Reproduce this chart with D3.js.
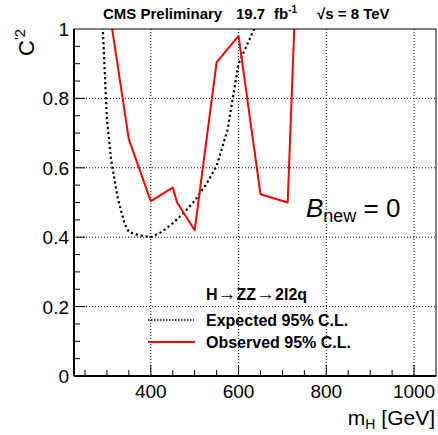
<!DOCTYPE html>
<html lang="en">
  <head>
    <meta charset="UTF-8" />
    <script src="https://d3js.org/d3.v7.min.js"></script>
    <style>
      body { margin: 0; background: #fff; }
      text { font-family: "Liberation Sans", Arial, sans-serif; }
    </style>
    <title>C'2 limit</title>
  </head>
  <body>
    <svg width="438" height="435"></svg>
    <script>
      // values
      var expMass = [290, 300, 310, 325, 340, 350, 375, 400, 425, 450, 475, 500, 525, 550, 575, 600, 650];
      var expLimit = [1.02, 0.74, 0.62, 0.51, 0.44, 0.415, 0.405, 0.40, 0.415, 0.44, 0.47, 0.505, 0.55, 0.605, 0.71, 0.90, 1.04];
      var obsMass = [300, 350, 400, 450, 460, 500, 550, 600, 650, 712, 750];
      var obsLimit = [1.10, 0.682, 0.504, 0.543, 0.50, 0.42, 0.904, 0.98, 0.524, 0.50, 1.77];
      var xTicks = [400, 600, 800, 1000];
      var yTicks = [0, 0.2, 0.4, 0.6, 0.8, 1];

      var svg = d3.select("svg"),
        margin = { top: 29, right: 2, bottom: 59, left: 74 },
        width = +svg.attr("width") - margin.left - margin.right,
        height = +svg.attr("height") - margin.top - margin.bottom,
        g = svg.append("g").attr("transform", "translate(" + margin.left + "," + margin.top + ")");

      var x = d3.scaleLinear().domain([225, 1050]).range([0, width]);
      var y = d3.scaleLinear().domain([0, 1]).range([height, 0]);

      svg.append("defs").append("clipPath").attr("id", "clip")
        .append("rect").attr("width", width).attr("height", height);

      // grid
      g.append("g").selectAll("line").data(xTicks).enter().append("line")
        .attr("x1", function (d) { return x(d); }).attr("x2", function (d) { return x(d); })
        .attr("y1", 0).attr("y2", height)
        .attr("stroke", "#000").attr("stroke-width", 1).attr("stroke-dasharray", "1,2");
      g.append("g").selectAll("line").data(yTicks.slice(1, 5)).enter().append("line")
        .attr("y1", function (d) { return y(d); }).attr("y2", function (d) { return y(d); })
        .attr("x1", 0).attr("x2", width)
        .attr("stroke", "#000").attr("stroke-width", 1).attr("stroke-dasharray", "1,2");

      // ticks (inside)
      var xMinor = d3.range(250, 1050, 50);
      g.append("g").selectAll("line").data(xMinor).enter().append("line")
        .attr("x1", function (d) { return x(d); }).attr("x2", function (d) { return x(d); })
        .attr("y1", height).attr("y2", function (d) { return d % 200 === 0 ? height - 11 : height - 6; })
        .attr("stroke", "#000").attr("stroke-width", 1);
      var yMinor = d3.range(0.05, 1, 0.05);
      g.append("g").selectAll("line").data(yMinor).enter().append("line")
        .attr("y1", function (d) { return y(d); }).attr("y2", function (d) { return y(d); })
        .attr("x1", 0).attr("x2", function (d, i) { return (i + 1) % 4 === 0 ? 11 : 6; })
        .attr("stroke", "#000").attr("stroke-width", 1);

      // tick labels
      g.append("g").selectAll("text").data(xTicks).enter().append("text")
        .attr("x", function (d) { return x(d); }).attr("y", height + 22)
        .attr("text-anchor", "middle").attr("font-size", 19).text(function (d) { return d; });
      g.append("g").selectAll("text").data(yTicks).enter().append("text")
        .attr("x", -5).attr("y", function (d) { return y(d) + 7; })
        .attr("text-anchor", "end").attr("font-size", 19).text(function (d) { return d; });

      // lines
      var line = d3.line().x(function (d) { return x(d[0]); }).y(function (d) { return y(d[1]); });
      var lines = g.append("g").attr("clip-path", "url(#clip)");
      lines.append("path").datum(d3.zip(expMass, expLimit))
        .attr("d", line).attr("fill", "none").attr("stroke", "#000")
        .attr("stroke-width", 2.2).attr("stroke-dasharray", "2.2,2.8");
      lines.append("path").datum(d3.zip(obsMass, obsLimit))
        .attr("d", line).attr("fill", "none").attr("stroke", "#f00")
        .attr("stroke-width", 2).attr("stroke-linejoin", "round");

      // frame
      g.append("rect").attr("width", width).attr("height", height)
        .attr("fill", "none").attr("stroke", "#000").attr("stroke-width", 1);
      g.append("line").attr("x1", 0).attr("x2", width).attr("y1", height).attr("y2", height)
        .attr("stroke", "#000").attr("stroke-width", 2);
      g.append("line").attr("x1", 0).attr("x2", 0).attr("y1", 0).attr("y2", height)
        .attr("stroke", "#000").attr("stroke-width", 2);

      // axis titles
      var xt = svg.append("text").attr("x", 435).attr("y", 425).attr("text-anchor", "end").attr("font-size", 21);
      xt.append("tspan").text("m");
      xt.append("tspan").attr("font-size", 14).attr("dy", 4).text("H");
      xt.append("tspan").attr("dy", -4).text(" [GeV]");
      var yt = svg.append("text").attr("transform", "translate(34,56) rotate(-90)")
        .attr("text-anchor", "start").attr("font-size", 22);
      yt.append("tspan").text("C");
      yt.append("tspan").attr("font-size", 15).attr("dy", -9).text("'2");

      // header
      var ht = svg.append("text").attr("x", 103).attr("y", 19).attr("font-size", 15).attr("font-weight", "bold");
      ht.append("tspan").text("CMS Preliminary");
      ht.append("tspan").attr("x", 236).text("19.7");
      ht.append("tspan").attr("x", 274).text("fb");
      ht.append("tspan").attr("font-size", 10).attr("dy", -6).text("-1");
      ht.append("tspan").attr("x", 317).attr("dy", 6).text("\u221As = 8 TeV");

      // B_new label
      var bt = svg.append("text").attr("x", 306).attr("y", 217).attr("font-size", 26);
      bt.append("tspan").attr("font-style", "italic").text("B");
      bt.append("tspan").attr("font-size", 18).attr("dy", 5).text("new");
      bt.append("tspan").attr("dy", -5).text(" = 0");

      // legend
      var lg = svg.append("g").attr("font-size", 16).attr("font-weight", "bold");
      var h = lg.append("text").attr("x", 206).attr("y", 300);
      h.append("tspan").text("H");
      h.append("tspan").attr("font-weight", "normal").attr("font-size", 19).text("\u2192");
      h.append("tspan").text("ZZ");
      h.append("tspan").attr("font-weight", "normal").attr("font-size", 19).text("\u2192");
      h.append("tspan").text("2l2q");
      lg.append("line").attr("x1", 148).attr("x2", 194).attr("y1", 320).attr("y2", 320)
        .attr("stroke", "#000").attr("stroke-width", 1.5).attr("stroke-dasharray", "1.5,1.5");
      lg.append("text").attr("x", 206).attr("y", 326).text("Expected 95% C.L.");
      lg.append("line").attr("x1", 148).attr("x2", 195).attr("y1", 342).attr("y2", 342)
        .attr("stroke", "#f00").attr("stroke-width", 2);
      lg.append("text").attr("x", 206).attr("y", 348).text("Observed 95% C.L.");
    </script>
  </body>
</html>
